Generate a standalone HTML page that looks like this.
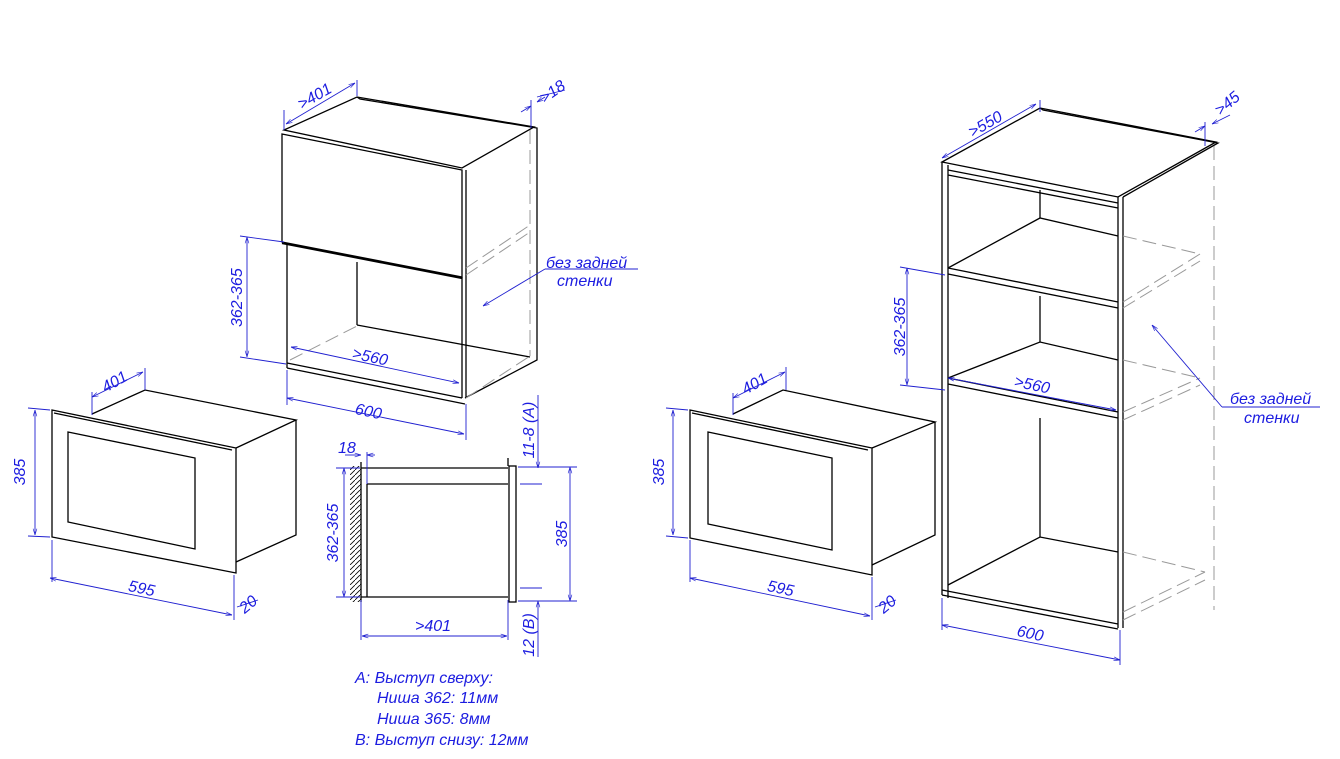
<!DOCTYPE html>
<html><head><meta charset="utf-8"><style>
body{margin:0;background:#fff}
svg{display:block}
text{font-family:"Liberation Sans",sans-serif;font-style:italic;font-size:16px;fill:#1c1ce0}
.k{stroke:#000;stroke-width:1.3;fill:none}
.g{stroke:#999;stroke-width:1;fill:none;stroke-dasharray:14,6}
.b{stroke:#2020d0;stroke-width:0.9;fill:none}
</style></head><body>
<svg width="1340" height="759" viewBox="0 0 1340 759">
<defs><marker id="a" viewBox="0 0 10 10" refX="10" refY="5" markerWidth="7" markerHeight="7" orient="auto-start-reverse"><path d="M0,2 L10,5 L0,8" fill="none" stroke="#2020d0"/></marker>
<pattern id="h" width="5" height="5" patternUnits="userSpaceOnUse"><path d="M0,5 L5,0" stroke="#000" stroke-width="0.8"/></pattern></defs>

<!-- Upper cabinet -->
<g class="k">
<polygon points="284,130 357,97 534,127 462,168"/>
<polyline points="357,97 360,99 537,128 537,360 465,398"/>
<polygon points="282,134 462,170 462,277 282,242"/>
<line x1="282" y1="243" x2="462" y2="278" stroke-width="2.2"/>
<line x1="287" y1="243" x2="287" y2="368"/>
<line x1="462" y1="277" x2="462" y2="398"/>
<line x1="466" y1="170" x2="466" y2="398"/>
<line x1="357" y1="262" x2="357" y2="325"/>
<polyline points="287,363 462,398"/>
<polyline points="287,368 465,404"/>
<line x1="357" y1="325" x2="530" y2="357"/>
</g>
<g class="g"><line x1="530" y1="130" x2="530" y2="356"/><line x1="466" y1="275" x2="530" y2="232"/><line x1="466" y1="268" x2="530" y2="225"/><line x1="466" y1="398" x2="530" y2="356"/><line x1="290" y1="360" x2="357" y2="326"/></g>
<g class="b">
<line x1="286" y1="124" x2="355" y2="83" marker-start="url(#a)" marker-end="url(#a)"/><line x1="357" y1="80" x2="357" y2="96"/><line x1="284" y1="110" x2="284" y2="130"/>
<line x1="521" y1="112" x2="531" y2="106" marker-end="url(#a)"/><line x1="545" y1="97" x2="537" y2="102" marker-end="url(#a)"/><line x1="531" y1="100" x2="531" y2="128"/><line x1="537" y1="97" x2="565" y2="90"/>
<line x1="247" y1="237" x2="247" y2="357" marker-start="url(#a)" marker-end="url(#a)"/><line x1="240" y1="236" x2="284" y2="242"/><line x1="240" y1="357" x2="286" y2="364"/>
<line x1="291" y1="347" x2="459" y2="383" marker-start="url(#a)" marker-end="url(#a)"/>
<line x1="287" y1="398" x2="464" y2="434" marker-start="url(#a)" marker-end="url(#a)"/><line x1="287" y1="370" x2="287" y2="405"/><line x1="466" y1="404" x2="466" y2="440"/>
<line x1="638" y1="269" x2="545" y2="269"/><line x1="545" y1="269" x2="483" y2="306" marker-end="url(#a)"/>
</g>
<text x="297" y="104" transform="rotate(-30 310 98)">&gt;401</text>
<text x="540" y="100" transform="rotate(-35 548 95)">&gt;18</text>
<text x="242" y="327" transform="rotate(-90 242 327)">362-365</text>
<text x="352" y="362" transform="rotate(12 370 357)">&gt;560</text>
<text x="355" y="417" transform="rotate(12 370 412)">600</text>
<text x="546" y="268">без задней</text>
<text x="557" y="286">стенки</text>

<!-- Left microwave -->
<g class="k">
<polygon points="52,410 236,448 236,573 52,537"/>
<polygon points="68,432 195,458 195,549 68,522"/>
<polyline points="92,414 145,390 296,420 236,448"/>
<polyline points="296,420 296,535 236,562"/>
<line x1="54" y1="413" x2="232" y2="450"/>
</g>
<g class="b">
<line x1="35" y1="410" x2="35" y2="535" marker-start="url(#a)" marker-end="url(#a)"/><line x1="28" y1="408" x2="50" y2="410"/><line x1="28" y1="536" x2="50" y2="537"/>
<line x1="50" y1="578" x2="232" y2="615" marker-start="url(#a)" marker-end="url(#a)"/><line x1="52" y1="540" x2="52" y2="582"/><line x1="234" y1="575" x2="234" y2="620"/>
<line x1="237" y1="607" x2="258" y2="600"/>
<line x1="92" y1="397" x2="143" y2="372" marker-start="url(#a)" marker-end="url(#a)"/><line x1="92" y1="392" x2="92" y2="415"/><line x1="145" y1="368" x2="145" y2="390"/>
</g>
<text x="25" y="472" transform="rotate(-90 25 472)" text-anchor="middle">385</text>
<text x="128" y="594" transform="rotate(12 143 590)">595</text>
<text x="236" y="610" transform="rotate(-40 246 600)">20</text>
<text x="100" y="388" transform="rotate(-30 112 380)">401</text>

<!-- Side section -->
<rect x="350" y="466" width="11" height="136" fill="url(#h)"/>
<g class="k">
<line x1="361" y1="462" x2="361" y2="602"/>
<polyline points="361,468 508,468"/><polyline points="361,597 508,597"/>
<polyline points="367,484 508,484"/><line x1="367" y1="484" x2="367" y2="597"/>
<rect x="509" y="466" width="7" height="136"/><line x1="508" y1="458" x2="508" y2="466"/>
</g>
<g class="b">
<line x1="344" y1="468" x2="344" y2="597" marker-start="url(#a)" marker-end="url(#a)"/><line x1="336" y1="468" x2="360" y2="468"/><line x1="336" y1="597" x2="360" y2="597"/>
<line x1="345" y1="455" x2="361" y2="455" marker-end="url(#a)"/><line x1="375" y1="455" x2="367" y2="455" marker-end="url(#a)"/><line x1="367" y1="452" x2="367" y2="484"/>
<line x1="362" y1="636" x2="507" y2="636" marker-start="url(#a)" marker-end="url(#a)"/><line x1="361" y1="600" x2="361" y2="640"/><line x1="508" y1="600" x2="508" y2="640"/>
<line x1="570" y1="467" x2="570" y2="601" marker-start="url(#a)" marker-end="url(#a)"/><line x1="518" y1="467" x2="577" y2="467"/><line x1="518" y1="601" x2="577" y2="601"/>
<line x1="538" y1="395" x2="538" y2="468" marker-end="url(#a)"/><line x1="538" y1="657" x2="538" y2="601" marker-end="url(#a)"/><line x1="520" y1="484" x2="542" y2="484"/><line x1="520" y1="588" x2="542" y2="588"/>
</g>
<text x="338" y="453">18</text>
<text x="338" y="533" transform="rotate(-90 338 533)" text-anchor="middle">362-365</text>
<text x="415" y="631">&gt;401</text>
<text x="567" y="534" transform="rotate(-90 567 534)" text-anchor="middle">385</text>
<text x="534" y="430" transform="rotate(-90 534 430)" text-anchor="middle">11-8 (A)</text>
<text x="534" y="635" transform="rotate(-90 534 635)" text-anchor="middle">12 (B)</text>
<text x="355" y="683">A: Выступ сверху:</text>
<text x="377" y="703">Ниша 362: 11мм</text>
<text x="377" y="724">Ниша 365: 8мм</text>
<text x="355" y="745">B: Выступ снизу: 12мм</text>

<!-- Tall cabinet -->
<g class="k">
<polygon points="942,162 1040,108 1216,142 1118,197"/>
<line x1="942" y1="162" x2="942" y2="595"/><line x1="948" y1="165" x2="948" y2="598"/>
<line x1="1118" y1="197" x2="1118" y2="628"/><line x1="1123" y1="197" x2="1123" y2="628"/>
<polyline points="1040,108 1043,110 1218,143 1123,197"/>
<line x1="948" y1="170" x2="1118" y2="203"/><line x1="948" y1="175" x2="1118" y2="208"/>
<polyline points="948,268 1040,218 1118,236"/><line x1="948" y1="268" x2="1118" y2="302"/><line x1="948" y1="274" x2="1118" y2="308"/>
<polyline points="948,378 1040,342 1118,360"/><line x1="948" y1="378" x2="1118" y2="412"/><line x1="948" y1="384" x2="1118" y2="418"/>
<polyline points="948,585 1040,537 1118,552"/><line x1="942" y1="590" x2="1118" y2="624"/><line x1="942" y1="595" x2="1118" y2="629"/>
<line x1="1040" y1="190" x2="1040" y2="218"/><line x1="1040" y1="296" x2="1040" y2="342"/><line x1="1040" y1="418" x2="1040" y2="537"/>
</g>
<g class="g"><line x1="1214" y1="146" x2="1214" y2="610"/>
<line x1="1123" y1="236" x2="1200" y2="254"/><line x1="1200" y1="254" x2="1123" y2="302"/><line x1="1123" y1="308" x2="1200" y2="261"/>
<line x1="1123" y1="360" x2="1200" y2="378"/><line x1="1123" y1="412" x2="1200" y2="378"/><line x1="1123" y1="420" x2="1200" y2="385"/>
<line x1="1123" y1="552" x2="1205" y2="572"/><line x1="1123" y1="612" x2="1205" y2="572"/><line x1="1123" y1="620" x2="1205" y2="580"/></g>
<g class="b">
<line x1="942" y1="158" x2="1036" y2="104" marker-start="url(#a)" marker-end="url(#a)"/><line x1="1040" y1="100" x2="1040" y2="112"/>
<line x1="1195" y1="132" x2="1205" y2="126" marker-end="url(#a)"/><line x1="1230" y1="115" x2="1212" y2="124" marker-end="url(#a)"/><line x1="1205" y1="122" x2="1205" y2="146"/>
<line x1="907" y1="268" x2="907" y2="385" marker-start="url(#a)" marker-end="url(#a)"/><line x1="900" y1="267" x2="945" y2="275"/><line x1="900" y1="385" x2="945" y2="390"/>
<line x1="948" y1="378" x2="1116" y2="410" marker-start="url(#a)" marker-end="url(#a)"/>
<line x1="942" y1="625" x2="1120" y2="660" marker-start="url(#a)" marker-end="url(#a)"/><line x1="942" y1="598" x2="942" y2="630"/><line x1="1120" y1="630" x2="1120" y2="665"/>
<line x1="1320" y1="407" x2="1222" y2="407"/><line x1="1222" y1="407" x2="1152" y2="325" marker-end="url(#a)"/>
</g>
<text x="965" y="130" transform="rotate(-30 983 120)">&gt;550</text>
<text x="1213" y="110" transform="rotate(-40 1225 103)">&gt;45</text>
<text x="905" y="327" transform="rotate(-90 905 327)" text-anchor="middle">362-365</text>
<text x="1014" y="390" transform="rotate(12 1032 385)">&gt;560</text>
<text x="1017" y="639" transform="rotate(12 1032 633)">600</text>
<text x="1230" y="404">без задней</text>
<text x="1244" y="423">стенки</text>

<!-- Right microwave -->
<g class="k">
<polygon points="690,410 872,448 872,575 690,538"/>
<polygon points="708,432 832,458 832,550 708,524"/>
<polyline points="733,414 783,390 935,422 872,448"/>
<polyline points="935,422 935,535 872,565"/>
<line x1="692" y1="413" x2="868" y2="450"/>
</g>
<g class="b">
<line x1="673" y1="410" x2="673" y2="535" marker-start="url(#a)" marker-end="url(#a)"/><line x1="666" y1="408" x2="688" y2="410"/><line x1="666" y1="536" x2="688" y2="538"/>
<line x1="690" y1="578" x2="870" y2="616" marker-start="url(#a)" marker-end="url(#a)"/><line x1="690" y1="540" x2="690" y2="582"/><line x1="872" y1="577" x2="872" y2="620"/>
<line x1="875" y1="607" x2="896" y2="600"/>
<line x1="733" y1="398" x2="785" y2="372" marker-start="url(#a)" marker-end="url(#a)"/><line x1="733" y1="393" x2="733" y2="415"/><line x1="786" y1="367" x2="786" y2="390"/>
</g>
<text x="664" y="472" transform="rotate(-90 664 472)" text-anchor="middle">385</text>
<text x="767" y="594" transform="rotate(12 782 590)">595</text>
<text x="875" y="610" transform="rotate(-40 885 600)">20</text>
<text x="740" y="390" transform="rotate(-30 752 382)">401</text>
</svg>
</body></html>
